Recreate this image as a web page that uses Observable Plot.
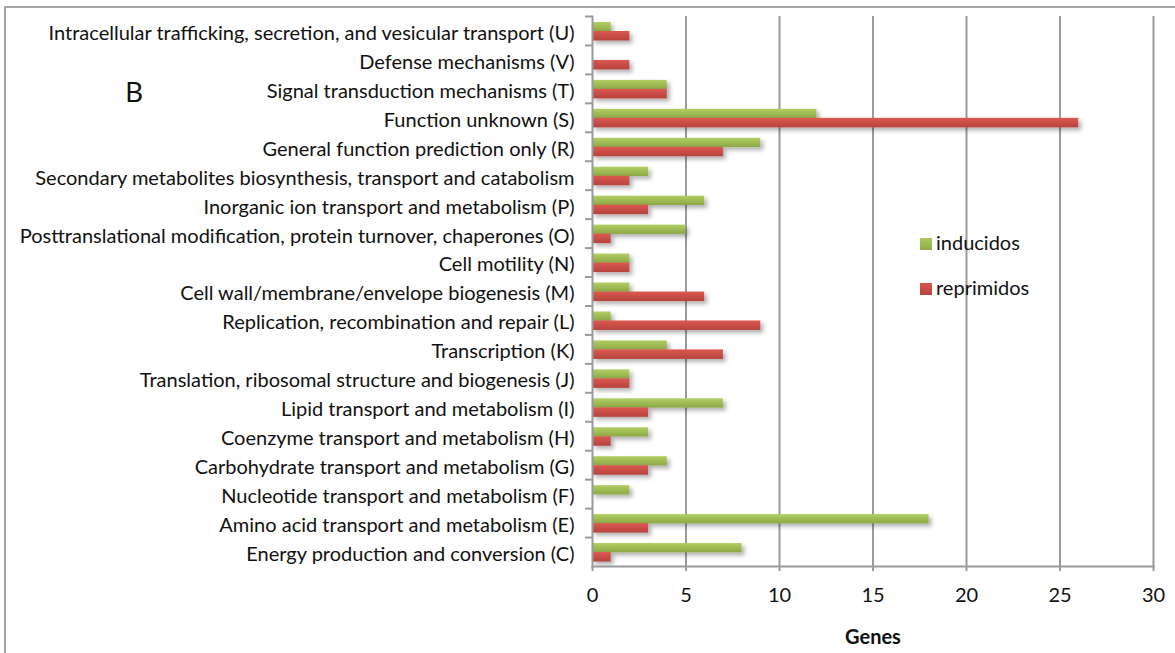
<!DOCTYPE html>
<html>
<head>
<meta charset="utf-8">
<script src="https://cdn.jsdelivr.net/npm/d3@7"></script>
<script src="https://cdn.jsdelivr.net/npm/@observablehq/plot@0.6"></script>
<style>
  html, body { margin: 0; padding: 0; background: #fff; }
  #wrap { position: relative; width: 1175px; height: 653px; overflow: hidden; font-family: Lato, "Open Sans", sans-serif; }
  #frame { position: absolute; left: 4px; top: 6px; width: 1200px; height: 700px; border-top: 2px solid #a6a6a6; border-left: 2px solid #a6a6a6; box-sizing: border-box; }
  #chart { position: absolute; left: 0; top: 0; }
  .legend { position: absolute; left: 920px; font-size: 20px; color: #111; line-height: 20px; }
  .legend span.sw { display: inline-block; width: 12px; height: 12px; margin-right: 4px; vertical-align: 0px; }
  #letterB { position: absolute; left: 125px; top: 77px; font-size: 28px; line-height: 1; font-family: "Noto Sans", sans-serif; color: #111; }
  [aria-label="x-axis label"] text { font-weight: bold; }
</style>
</head>
<body>
<div id="wrap">
  <div id="frame"></div>
  <div id="chart"></div>
  <div id="letterB">B</div>
  <div class="legend" style="top:232px"><span class="sw" style="background:linear-gradient(#acc95e,#8fac48)"></span>inducidos</div>
  <div class="legend" style="top:277px"><span class="sw" style="background:linear-gradient(#d9554d,#b8453f)"></span>reprimidos</div>
</div>
<script>
const categories = [
  "Intracellular trafficking, secretion, and vesicular transport (U)",
  "Defense mechanisms (V)",
  "Signal transduction mechanisms (T)",
  "Function unknown (S)",
  "General function prediction only (R)",
  "Secondary metabolites biosynthesis, transport and catabolism",
  "Inorganic ion transport and metabolism (P)",
  "Posttranslational modification, protein turnover, chaperones (O)",
  "Cell motility (N)",
  "Cell wall/membrane/envelope biogenesis (M)",
  "Replication, recombination and repair (L)",
  "Transcription (K)",
  "Translation, ribosomal structure and biogenesis (J)",
  "Lipid transport and metabolism (I)",
  "Coenzyme transport and metabolism (H)",
  "Carbohydrate transport and metabolism (G)",
  "Nucleotide transport and metabolism (F)",
  "Amino acid transport and metabolism (E)",
  "Energy production and conversion (C)"
];
const inducidos  = [1, 0, 4, 12, 9, 3, 6, 5, 2, 2, 1, 4, 2, 7, 3, 4, 2, 18, 8];
const reprimidos = [2, 2, 4, 26, 7, 2, 3, 1, 2, 6, 9, 7, 2, 3, 1, 3, 0, 3, 1];
const xTicks = [0, 5, 10, 15, 20, 25, 30];

const indData = categories.map((c, i) => ({category: c, value: inducidos[i]}));
const repData = categories.map((c, i) => ({category: c, value: reprimidos[i]}));

const W = 1175, H = 653;
const mL = 592, mR = 22, mT = 16, mB = 87;
const band = (H - mT - mB) / categories.length;

const plot = Plot.plot({
  width: W,
  height: H,
  marginLeft: mL,
  marginRight: mR,
  marginTop: mT,
  marginBottom: mB,
  style: {fontFamily: "Lato, 'Open Sans', sans-serif", fontSize: "20px", color: "#111", background: "transparent"},
  x: {domain: [0, 30], ticks: xTicks},
  y: {domain: categories, padding: 0, round: false},
  marks: [
    Plot.gridX(xTicks.slice(1), {stroke: "#9a9a9a", strokeWidth: 2, strokeOpacity: 1}),
    Plot.barX(indData, {x: "value", y: "category", fill: "url(#gGreen)", insetTop: 6, insetBottom: band - 15.3, filter: d => d.value > 0}),
    Plot.barX(repData, {x: "value", y: "category", fill: "url(#gRed)", insetTop: 15, insetBottom: band - 24.5, filter: d => d.value > 0}),
    Plot.frame({anchor: "left", stroke: "#9a9a9a", strokeWidth: 2}),
    Plot.frame({anchor: "bottom", stroke: "#9a9a9a", strokeWidth: 2}),
    Plot.axisY({ticks: categories, tickSize: 7, text: null, dy: -band / 2, stroke: "#9a9a9a", strokeWidth: 2, label: null}),
    Plot.axisY({tickSize: 0, tickPadding: 18, dy: 2.5, fontSize: 20, fill: "#111", label: null}),
    Plot.axisX({ticks: xTicks, tickSize: 5, tickPadding: 16, stroke: "#9a9a9a", strokeWidth: 2, fontSize: 20, fill: "#111", label: "Genes", labelAnchor: "center", labelArrow: "none", labelOffset: 77})
  ]
});

const svg = d3.select(plot);
const defs = svg.insert("defs", ":first-child");
const g1 = defs.append("linearGradient").attr("id", "gGreen").attr("x1", 0).attr("y1", 0).attr("x2", 0).attr("y2", 1);
g1.append("stop").attr("offset", "0%").attr("stop-color", "#b1cf62");
g1.append("stop").attr("offset", "100%").attr("stop-color", "#8ca846");
const g2 = defs.append("linearGradient").attr("id", "gRed").attr("x1", 0).attr("y1", 0).attr("x2", 0).attr("y2", 1);
g2.append("stop").attr("offset", "0%").attr("stop-color", "#dc5850");
g2.append("stop").attr("offset", "100%").attr("stop-color", "#b6433d");
const f = defs.append("filter").attr("id", "shadow").attr("x", "-10%").attr("y", "-50%").attr("width", "130%").attr("height", "250%");
f.append("feDropShadow").attr("dx", 3).attr("dy", 3).attr("stdDeviation", 2).attr("flood-color", "#000").attr("flood-opacity", 0.3);
svg.selectAll('[aria-label="bar"]').attr("filter", "url(#shadow)");

document.getElementById("chart").appendChild(plot);
</script>
</body>
</html>
